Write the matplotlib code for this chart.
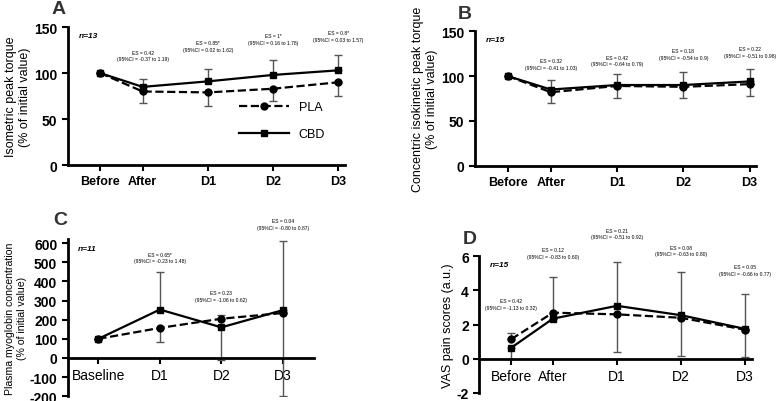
import numpy as np
import matplotlib.pyplot as plt

plt.rcParams['font.family'] = ['Liberation Sans', 'DejaVu Sans']
plt.rcParams['axes.unicode_minus'] = False

# x positions / labels
x5 = [0, 0.65, 1.65, 2.65, 3.65]
lab5 = ['Before', 'After', 'D1', 'D2', 'D3']
x4 = [0, 1, 2, 3]
lab4 = ['Baseline', 'D1', 'D2', 'D3']

# A: isometric
a_pla = [100, 80, 79, 83, 90]
a_pla_lo = [0, 13, 15, 13, 15]
a_cbd = [100, 85, 91, 98, 103]
a_cbd_hi = [0, 9, 14, 16, 17]
a_es = ['ES = 0.42\n(95%CI = -0.37 to 1.19)', 'ES = 0.85*\n(95%CI = 0.02 to 1.62)',
        'ES = 1*\n(95%CI = 0.16 to 1.78)', 'ES = 0.8*\n(95%CI = 0.03 to 1.57)']
a_es_y = [113, 123, 131, 134]

# B: concentric
b_pla = [100, 82, 89, 88, 91]
b_pla_lo = [0, 12, 13, 13, 13]
b_cbd = [100, 85, 90, 90, 94]
b_cbd_hi = [0, 11, 12, 15, 14]
b_es = ['ES = 0.32\n(95%CI = -0.41 to 1.03)', 'ES = 0.42\n(95%CI = -0.64 to 0.79)',
        'ES = 0.18\n(95%CI = -0.54 to 0.9)', 'ES = 0.22\n(95%CI = -0.51 to 0.98)']
b_es_y = [107, 111, 118, 120]

# C: myoglobin
c_pla = [100, 157, 205, 235]
c_pla_lo = [0, 75, 0, 435]
c_pla_hi = [0, 0, 20, 0]
c_cbd = [100, 253, 160, 250]
c_cbd_lo = [0, 0, 170, 0]
c_cbd_hi = [0, 197, 0, 360]
c_es = ['ES = 0.65*\n(95%CI = -0.23 to 1.48)', 'ES = 0.23\n(95%CI = -1.06 to 0.62)',
        'ES = 0.04\n(95%CI = -0.80 to 0.87)']
c_es_y = [495, 295, 670]

# D: VAS
d_pla = [1.15, 2.7, 2.6, 2.4, 1.7]
d_pla_lo = [0, 0, 2.2, 2.25, 1.6]
d_pla_hi = [0.35, 2.1, 0, 0, 0]
d_cbd = [0.65, 2.35, 3.1, 2.55, 1.75]
d_cbd_lo = [0.65, 0, 0, 0, 0]
d_cbd_hi = [0, 0, 2.55, 2.55, 2.05]
d_es = ['ES = 0.42\n(95%CI = -1.13 to 0.32)', 'ES = 0.12\n(95%CI = -0.83 to 0.60)',
        'ES = 0.21\n(95%CI = -0.51 to 0.92)', 'ES = 0.08\n(95%CI = -0.63 to 0.80)',
        'ES = 0.05\n(95%CI = -0.66 to 0.77)']
d_es_y = [2.85, 5.85, 7.0, 6.0, 4.85]

fig = plt.figure(figsize=(7.78, 4.02), dpi=100)


def panel(rect, x, pla, pla_err, cbd, cbd_err, xl, es, es_x, es_y, ylim, yt, ylabel,
          letter, n, zero_axis=False, xlim=None, ylfs=9, xfs=9):
    ax = fig.add_axes(rect)
    ec = '#555555'
    ax.errorbar(x, pla, yerr=pla_err, fmt='none', ecolor=ec, elinewidth=1, capsize=3)
    ax.errorbar(x, cbd, yerr=cbd_err, fmt='none', ecolor=ec, elinewidth=1, capsize=3)
    ax.plot(x, pla, '--', color='k', marker='o', ms=5, lw=1.6, label='PLA')
    ax.plot(x, cbd, '-', color='k', marker='s', ms=5, lw=1.6, label='CBD')
    for xx, t, yy in zip(es_x, es, es_y):
        ax.text(xx, yy, t, fontsize=3.6, ha='center', va='bottom', linespacing=1.4)
    ax.set_ylim(*ylim)
    ax.set_yticks(yt)
    ax.set_xlim(*xlim)
    ax.set_xticks(x)
    ax.set_xticklabels(xl, fontweight='bold', fontsize=xfs)
    for t in ax.get_yticklabels():
        t.set_fontweight('bold')
        t.set_fontsize(10)
    ax.spines['top'].set_visible(False)
    ax.spines['right'].set_visible(False)
    ax.spines['left'].set_linewidth(2)
    ax.spines['bottom'].set_linewidth(2)
    ax.tick_params(width=1.5, length=4)
    if zero_axis:
        ax.spines['bottom'].set_position(('data', 0))
    ax.set_ylabel(ylabel, fontsize=ylfs, labelpad=2)
    ax.text(0.04, 0.93, n, transform=ax.transAxes, fontsize=6, style='italic',
            fontweight='bold')
    ax.text(-0.06, 1.1, letter, transform=ax.transAxes, fontsize=14, fontweight='bold',
            color='#333333')
    return ax


ax = panel([0.087, 0.587, 0.356, 0.343], x5, a_pla, [a_pla_lo, [0]*5], a_cbd,
           [[0]*5, a_cbd_hi], lab5, a_es, x5[1:], a_es_y, (0, 150), [0, 50, 100, 150],
           'Isometric peak torque\n(% of initial value)', 'A', 'n=13', xlim=(-0.5, 3.75))
ax.legend(loc='lower right', bbox_to_anchor=(0.97, 0.1), frameon=False, fontsize=9,
          handlelength=4, labelspacing=1.2)

panel([0.61, 0.585, 0.362, 0.335], x5, b_pla, [b_pla_lo, [0]*5], b_cbd,
      [[0]*5, b_cbd_hi], lab5, b_es, x5[1:], b_es_y, (0, 150), [0, 50, 100, 150],
      'Concentric isokinetic peak torque\n(% of initial value)', 'B', 'n=15',
      xlim=(-0.5, 3.75))

panel([0.087, 0.012, 0.316, 0.39], x4, c_pla, [c_pla_lo, c_pla_hi], c_cbd,
      [c_cbd_lo, c_cbd_hi], lab4, c_es, x4[1:], c_es_y, (-200, 620),
      list(range(-200, 700, 100)),
      'Plasma myoglobin concentration\n(% of initial value)', 'C', 'n=11',
      zero_axis=True, xlim=(-0.5, 3.5), ylfs=7.6, xfs=10.5)

panel([0.616, 0.02, 0.35, 0.34], x5, d_pla, [d_pla_lo, d_pla_hi], d_cbd,
      [d_cbd_lo, d_cbd_hi], lab5, d_es, x5, d_es_y, (-2, 6), [-2, 0, 2, 4, 6],
      'VAS pain scores (a.u.)', 'D', 'n=15', zero_axis=True, xlim=(-0.5, 3.75))

fig.savefig('out.png', dpi=100)
